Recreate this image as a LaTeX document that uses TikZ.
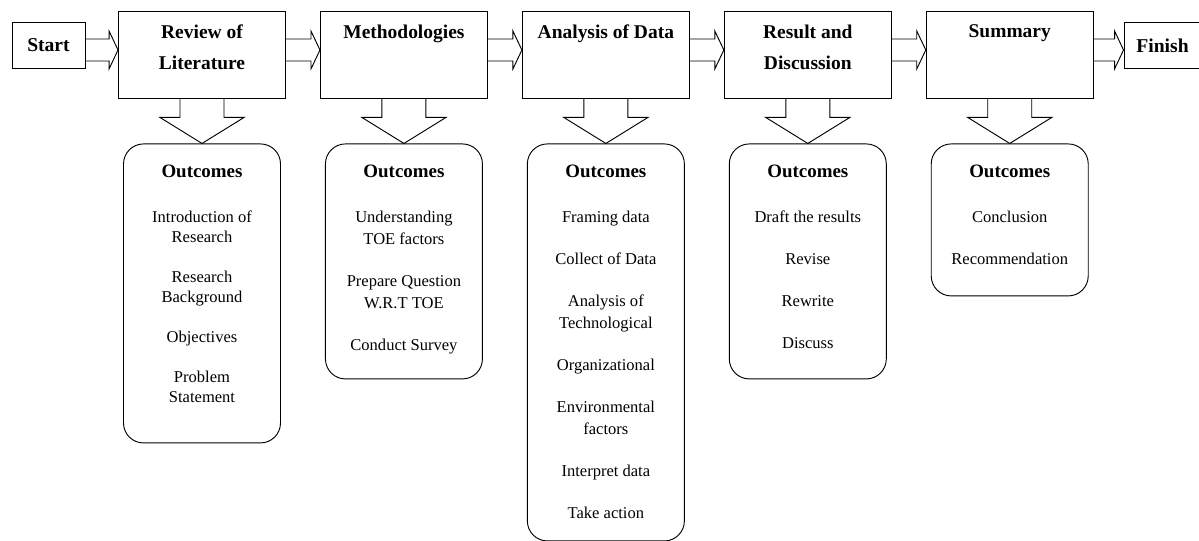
\documentclass[tikz,border=0pt]{standalone}
\usepackage{fontspec}
\setmainfont{Liberation Serif}
\usetikzlibrary{positioning}
\tikzstyle{stagebox}=[draw,line width=0.7pt,minimum width=125.25pt,minimum height=65.25pt,inner sep=0pt]
\tikzstyle{endbox}=[draw,line width=0.7pt,minimum height=34.5pt,inner sep=0pt,font=\fontsize{14.7}{17}\selectfont\bfseries]
\tikzstyle{stagetitle}=[align=center,inner sep=0pt,font=\fontsize{14.6}{23.25}\selectfont\bfseries]
\tikzstyle{outbox}=[draw,line width=0.7pt,rounded corners=15pt,minimum width=117.75pt,inner sep=0pt]
\tikzstyle{outtext}=[align=center,inner sep=0pt,font=\fontsize{12.4}{15}\selectfont]
\tikzstyle{blockright}=[line width=0.7pt,to path={([yshift=-8.25pt]\tikztostart) -- ([xshift=-6.75pt,yshift=-8.25pt]\tikztotarget) -- ([xshift=-6.75pt,yshift=-14.25pt]\tikztotarget) -- (\tikztotarget) -- ([xshift=-6.75pt,yshift=14.25pt]\tikztotarget) -- ([xshift=-6.75pt,yshift=8.25pt]\tikztotarget) -- ([yshift=8.25pt]\tikztostart)}]
\tikzstyle{blockdown}=[line width=0.7pt,to path={([xshift=-16.5pt]\tikztostart) -- ([xshift=-16.5pt,yshift=19.5pt]\tikztotarget) -- ([xshift=-31.5pt,yshift=19.5pt]\tikztotarget) -- (\tikztotarget) -- ([xshift=31.5pt,yshift=19.5pt]\tikztotarget) -- ([xshift=16.5pt,yshift=19.5pt]\tikztotarget) -- ([xshift=16.5pt]\tikztostart)}]
\newcommand{\outhead}{\fontsize{14.2}{15}\selectfont\bfseries}

\begin{document}
\begin{tikzpicture}[x=0.75pt,y=-0.75pt]

\useasboundingbox (0,0) rectangle (1199,541);
\clip (0,0) rectangle (1199,541);

\coordinate (flowline) at (0,50);

% top row
\node[endbox,minimum width=54.75pt] (start) at (48.5,45) {Start};
\node[stagebox] (review) at (202,54.5) {};
\node[stagebox,right=25.5pt of review] (method) {};
\node[stagebox,right=25.5pt of method] (analysis) {};
\node[stagebox,right=25.5pt of analysis] (result) {};
\node[stagebox,right=25.5pt of result] (summary) {};
\node[endbox,minimum width=57.75pt] (finish) at (1162.5,45.5) {Finish};

\node[stagetitle,below=10.5pt of review.north] (reviewtitle) {Review of\\Literature};
\node[stagetitle,below=10.5pt of method.north] (methodtitle) {Methodologies};
\node[stagetitle,below=10.5pt of analysis.north] (analysistitle) {Analysis of Data};
\node[stagetitle,below=10.5pt of result.north] (resulttitle) {Result and\\Discussion};
\node[stagetitle,below=10.5pt of summary.north] (summarytitle) {Summary};

\draw[blockright] (start.east |- flowline) to (review.west |- flowline);
\draw[blockright] (review.east |- flowline) to (method.west |- flowline);
\draw[blockright] (method.east |- flowline) to (analysis.west |- flowline);
\draw[blockright] (analysis.east |- flowline) to (result.west |- flowline);
\draw[blockright] (result.east |- flowline) to (summary.west |- flowline);
\draw[blockright] (summary.east |- flowline) to (finish.west |- flowline);

% outcomes
\node[outbox,minimum height=224.25pt,below=33.75pt of review] (out1) {};
\node[outbox,minimum height=176.25pt,below=33.75pt of method] (out2) {};
\node[outbox,minimum height=297.75pt,below=33.75pt of analysis] (out3) {};
\node[outbox,minimum height=176.25pt,below=33.75pt of result] (out4) {};
\node[outbox,minimum height=114pt,below=33.75pt of summary] (out5) {};

\draw[blockdown] (review.south) to (out1.north);
\draw[blockdown] (method.south) to (out2.north);
\draw[blockdown] (analysis.south) to (out3.north);
\draw[blockdown] (result.south) to (out4.north);
\draw[blockdown] (summary.south) to (out5.north);

\node[outtext,below=16pt of out1.north] (out1text) {{\outhead Outcomes}\\[18.75pt]Introduction of\\Research\\[15pt]Research\\Background\\[15pt]Objectives\\[15pt]Problem\\Statement};
\node[outtext,below=16pt of out2.north] (out2text) {{\outhead Outcomes}\\[18.75pt]Understanding\\[1.5pt]TOE factors\\[16.5pt]Prepare Question\\[1.5pt]W.R.T TOE\\[16.5pt]Conduct Survey};
\node[outtext,below=16pt of out3.north] (out3text) {{\outhead Outcomes}\\[18.75pt]Framing data\\[16.5pt]Collect of Data\\[16.5pt]Analysis of\\[1.5pt]Technological\\[16.5pt]Organizational\\[16.5pt]Environmental\\[1.5pt]factors\\[16.5pt]Interpret data\\[16.5pt]Take action};
\node[outtext,below=16pt of out4.north] (out4text) {{\outhead Outcomes}\\[18.75pt]Draft the results\\[16.5pt]Revise\\[16.5pt]Rewrite\\[16.5pt]Discuss};
\node[outtext,below=16pt of out5.north] (out5text) {{\outhead Outcomes}\\[18.75pt]Conclusion\\[16.5pt]Recommendation};

\end{tikzpicture}
\end{document}
